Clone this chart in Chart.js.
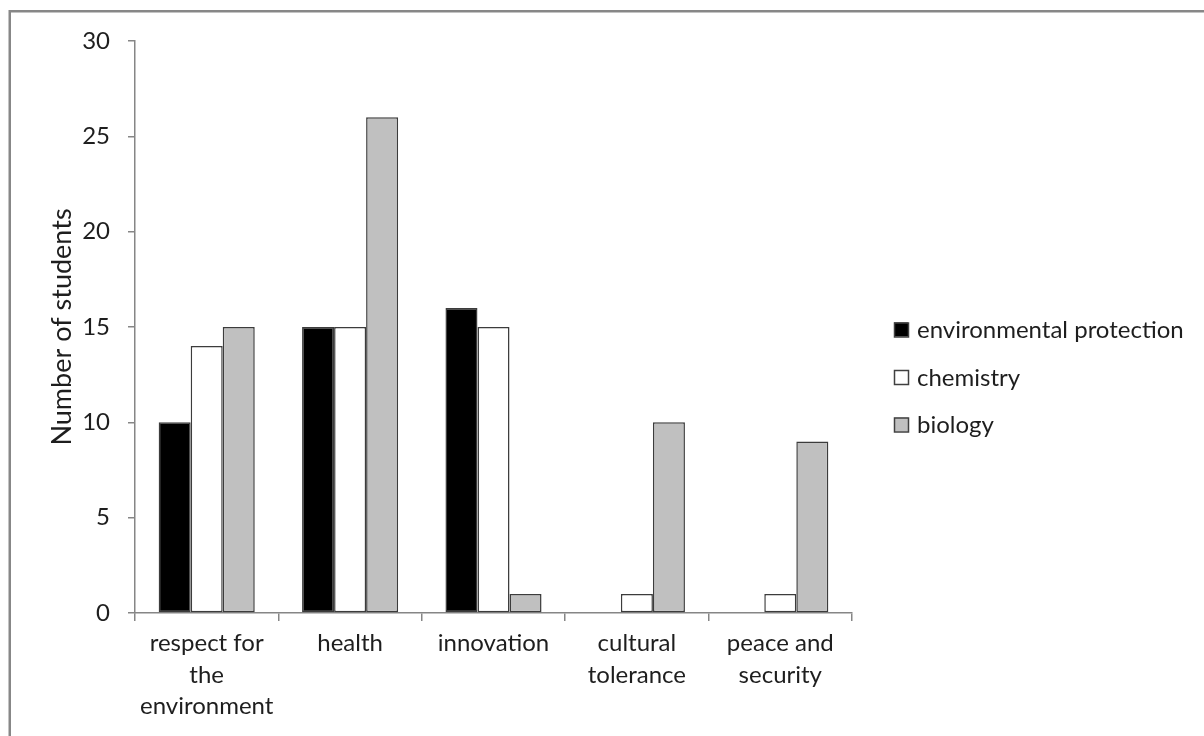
<!DOCTYPE html>
<html>
<head>
<meta charset="utf-8">
<script src="https://cdn.jsdelivr.net/npm/chart.js@4/dist/chart.umd.min.js"></script>
<style>
  html, body { margin: 0; padding: 0; background: #fff; }
  #wrap { width: 1204px; height: 736px; }
</style>
</head>
<body>
<div id="wrap"><canvas id="c" width="1204" height="736"></canvas></div>
<script>
// Categories (multi-line labels) and series values
const categories = [
  ['respect for', 'the', 'environment'],
  'health',
  'innovation',
  ['cultural', 'tolerance'],
  ['peace and', 'security']
];
const seriesNames = ['environmental protection', 'chemistry', 'biology'];
const environmentalProtection = [10, 15, 16, 0, 0];
const chemistry = [14, 15, 15, 1, 1];
const biology = [15, 26, 1, 10, 9];
const yTicks = [0, 5, 10, 15, 20, 25, 30];

const FONT = 'Lato, "Open Sans", sans-serif';
const FONT_SIZE = 24;
const TITLE_SIZE = 27;
const AXIS_GREY = '#868686';
const TEXT = '#1e1e1e';

// Outer frame of the chart
const framePlugin = {
  id: 'frame',
  beforeDraw(chart) {
    const ctx = chart.ctx;
    ctx.save();
    ctx.fillStyle = '#fff';
    ctx.fillRect(0, 0, chart.width, chart.height);
    ctx.strokeStyle = '#878787';
    ctx.lineWidth = 2.5;
    ctx.strokeRect(9.75, 11.25, 1400, 1000);
    ctx.restore();
  }
};

// Vertical legend to the right of the plot
const sideLegend = {
  id: 'sideLegend',
  afterDraw(chart) {
    const ctx = chart.ctx;
    const x0 = 894, box = 14, yStart = 329.5, gap = 47.5;
    ctx.save();
    ctx.font = FONT_SIZE + 'px ' + FONT;
    ctx.textBaseline = 'middle';
    chart.data.datasets.forEach((ds, i) => {
      const yc = yStart + i * gap;
      ctx.fillStyle = ds.backgroundColor;
      ctx.fillRect(x0, yc - box / 2, box, box);
      ctx.strokeStyle = '#404040';
      ctx.lineWidth = 1.5;
      ctx.strokeRect(x0 + 0.5, yc - box / 2 + 0.5, box, box);
      ctx.fillStyle = TEXT;
      ctx.fillText(ds.label, x0 + 23, yc + 1);
    });
    ctx.restore();
  }
};

const zeroless = ctx => (ctx.raw === 0 ? 0 : 1.5);

new Chart(document.getElementById('c'), {
  type: 'bar',
  data: {
    labels: categories,
    datasets: [
      { label: seriesNames[0], data: environmentalProtection, backgroundColor: '#000000' },
      { label: seriesNames[1], data: chemistry, backgroundColor: '#ffffff' },
      { label: seriesNames[2], data: biology, backgroundColor: '#c0c0c0' }
    ].map(d => Object.assign(d, {
      borderColor: '#3c3c3c',
      borderWidth: zeroless,
      borderSkipped: false,
      categoryPercentage: 0.67,
      barPercentage: 1.0
    }))
  },
  options: {
    responsive: false,
    animation: false,
    devicePixelRatio: 1,
    layout: { padding: { left: 20, top: 41, right: 352, bottom: 0 } },
    plugins: {
      legend: { display: false },
      tooltip: { enabled: false }
    },
    scales: {
      x: {
        offset: true,
        grid: {
          offset: true,
          drawOnChartArea: false,
          drawTicks: true,
          tickLength: 8,
          color: AXIS_GREY,
          lineWidth: 1.5
        },
        border: { color: AXIS_GREY, width: 1.5 },
        ticks: {
          color: TEXT,
          font: { family: FONT, size: FONT_SIZE, lineHeight: 1.31 },
          padding: 7,
          maxRotation: 0,
          autoSkip: false
        },
        afterFit(scale) { scale.height = 123; }
      },
      y: {
        min: 0,
        max: 30,
        afterBuildTicks(scale) { scale.ticks = yTicks.map(v => ({ value: v })); },
        grid: {
          drawOnChartArea: false,
          drawTicks: true,
          tickLength: 7,
          color: AXIS_GREY,
          lineWidth: 1.5
        },
        border: { color: AXIS_GREY, width: 1.5 },
        ticks: {
          color: TEXT,
          font: { family: FONT, size: FONT_SIZE },
          padding: 18
        },
        title: {
          display: true,
          text: 'Number of students',
          color: TEXT,
          font: { family: FONT, size: TITLE_SIZE, lineHeight: 1.2 },
          padding: { top: 26, bottom: 0 }
        },
        afterFit(scale) { scale.width = 115; }
      }
    }
  },
  plugins: [framePlugin, sideLegend]
});
</script>
</body>
</html>
